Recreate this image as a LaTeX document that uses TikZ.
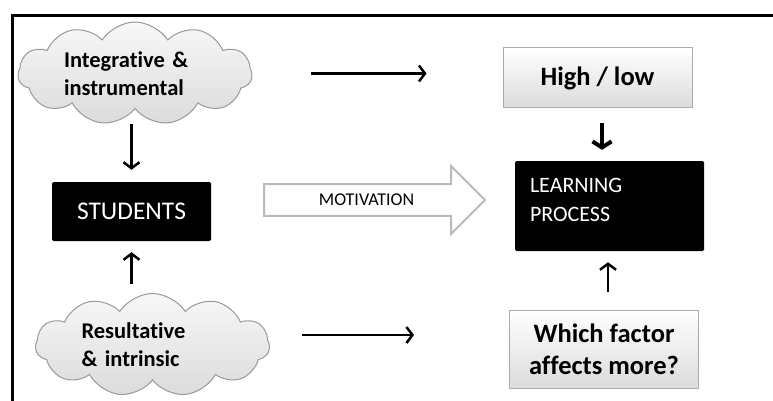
\documentclass[tikz,border=0pt]{standalone}
\usepackage{fontspec}
\setmainfont{Carlito}[Ligatures=NoCommon]
\usetikzlibrary{shapes.symbols,shapes.arrows,arrows.meta}

\tikzset{
  cloudbox/.style={cloud, cloud puffs=11, cloud puff arc=115, cloud ignores aspect,
    draw=gray!80, line width=1pt, top color=gray!6, bottom color=gray!28,
    minimum width=234, minimum height=103, inner sep=0pt,
    text width=142pt, align=left, font=\fontsize{22.5}{28}\selectfont\bfseries},
  greybox/.style={rectangle, draw=gray!65, line width=1pt, top color=white,
    bottom color=gray!28, minimum width=189, align=center,
    font=\fontsize{26.5}{32}\selectfont\bfseries},
  blackbox/.style={rectangle, rounded corners=1.5pt, fill=black, text=white},
  thinarrow/.style={line width=2.5pt, -{Straight Barb[length=6pt,width=16pt]}},
  thickarrow/.style={line width=4pt, -{Straight Barb[length=6pt,width=19pt]}}
}

\begin{document}
\begin{tikzpicture}[x=1pt,y=-1pt]
\useasboundingbox (0,0) rectangle (773,401);

% frame
\draw [line width=3pt] (12.5,401) -- (12.5,15.5) -- (773,15.5);

% clouds
\node [cloudbox] (integ) at (135,73.5) {Integrative \&\\instrumental};
\node [cloudbox] (result) at (152.5,345) {Resultative\\\& intrinsic};

% boxes
\node [blackbox, minimum width=159, minimum height=59,
  font=\fontsize{25.5}{30}\selectfont] (students) at (131.5,211.5) {STUDENTS};
\node [blackbox, minimum width=189, minimum height=90, inner xsep=15pt,
  inner ysep=0pt, text width=159pt, align=left, text depth=42pt,
  font=\fontsize{22}{29}\selectfont] (learning) at (609.5,206) {LEARNING\\PROCESS};
\node [greybox, minimum height=60] (high) at (597.5,78) {High / low};
\node [greybox, minimum height=78] (which) at (604,349) {Which factor\\affects more?};

% motivation
\node [single arrow, draw=gray!55, line width=2pt, fill=white, minimum height=221,
  single arrow head extend=18pt, inner xsep=4pt, inner ysep=9pt, anchor=tail,
  font=\fontsize{18}{22}\selectfont] (motiv) at (263,200) {MOTIVATION};

% arrows
\draw [thinarrow, shorten <=59pt, shorten >=76pt] (integ.east) -- (integ.east -| high.west);
\draw [thinarrow, shorten <=32pt, shorten >=95pt] ([yshift=10pt]result.east) -- ([yshift=10pt]result.east -| which.west);
\draw [thinarrow, shorten <=15pt, shorten >=12pt] (integ.south -| students) -- (students.north);
\draw [thinarrow, shorten <=9pt, shorten >=11pt] (result.north -| students) -- (students.south);
\draw [thickarrow, shorten <=15pt, shorten >=11pt] ([xshift=4.5pt]high.south) -- ([xshift=4.5pt]high.south |- learning.north);
\draw [thinarrow, shorten <=18pt, shorten >=11pt] ([xshift=4pt]which.north) -- ([xshift=4pt]which.north |- learning.south);
\end{tikzpicture}
\end{document}
